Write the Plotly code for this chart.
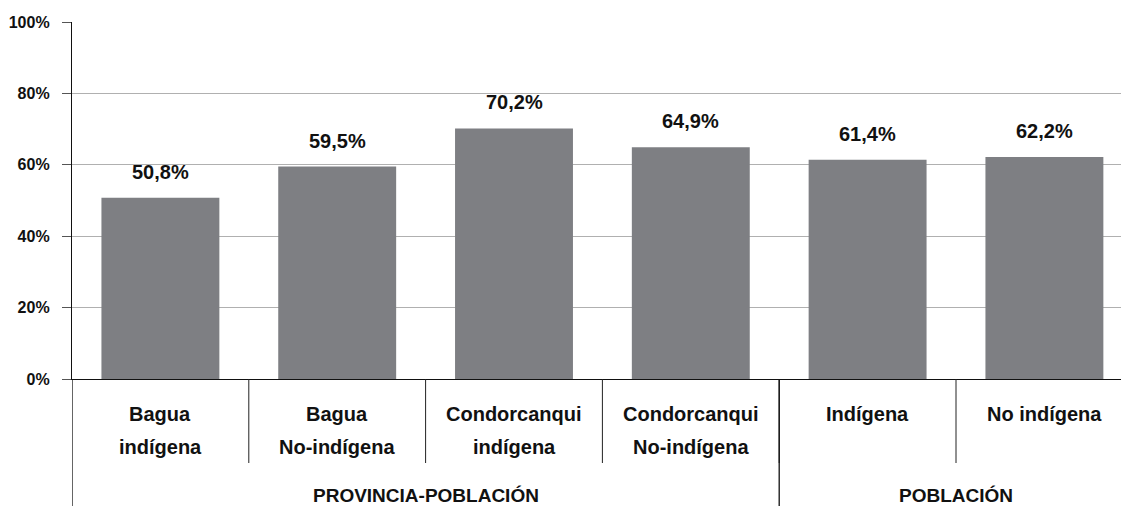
import plotly.graph_objects as go

# Data
categories = ["Bagua<br>indígena", "Bagua<br>No-indígena", "Condorcanqui<br>indígena",
              "Condorcanqui<br>No-indígena", "Indígena", "No indígena"]
values = [50.8, 59.5, 70.2, 64.9, 61.4, 62.2]
value_labels = ["50,8%", "59,5%", "70,2%", "64,9%", "61,4%", "62,2%"]
groups = ["PROVINCIA-POBLACIÓN", "POBLACIÓN"]
group_sizes = [4, 2]
y_ticks = [0, 20, 40, 60, 80, 100]
y_ticklabels = ["0%", "20%", "40%", "60%", "80%", "100%"]

_BAR = "#7e7f83"
_GRID = "#b0b0b0"
_TXT = "#111111"
_FONT = "Liberation Sans, Arial, sans-serif"

W, H = 1121, 506
M_L, M_T, M_B = 72, 22, 127
plot_h = H - M_T - M_B
cat_w = 176.8  # pixels per category; last one runs past the right edge
x_end = -0.5 + (W - M_L) / cat_w


def py(pixel_y):
    """Page pixel y -> paper coordinate (below the plot area is negative)."""
    return (H - M_B - pixel_y) / plot_h


xs = list(range(len(categories)))

fig = go.Figure()
fig.add_trace(go.Bar(
    x=xs,
    y=values,
    width=0.667,
    marker=dict(color=_BAR, line=dict(width=0)),
    hoverinfo="skip",
))

# value labels above bars
for x, v, lab in zip(xs, values, value_labels):
    fig.add_annotation(x=x, y=v, text=f"<b>{lab}</b>", showarrow=False,
                       yanchor="bottom", yshift=13,
                       font=dict(family=_FONT, size=20, color=_TXT))

# category labels, one annotation per line for the wide line spacing
for x, cat in zip(xs, categories):
    for k, line in enumerate(cat.split("<br>")):
        fig.add_annotation(x=x, xref="x", y=py(414 + 33 * k), yref="paper",
                           text=f"<b>{line}</b>", showarrow=False, yanchor="middle",
                           font=dict(family=_FONT, size=20, color=_TXT))

# inner separators between categories
for i in range(len(categories) - 1):
    fig.add_shape(type="line", xref="x", yref="paper", x0=i + 0.5, x1=i + 0.5,
                  y0=0, y1=py(463),
                  line=dict(color="#222222", width=1))

# group separators and group labels
start = -0.5
for g, n in zip(groups, group_sizes):
    fig.add_shape(type="line", xref="x", yref="paper", x0=start, x1=start,
                  y0=0, y1=py(H),
                  line=dict(color=_TXT, width=1.3))
    fig.add_annotation(x=start + n / 2, xref="x", y=py(495), yref="paper",
                       text=f"<b>{g}</b>", showarrow=False, yanchor="middle",
                       font=dict(family=_FONT, size=19, color=_TXT))
    start += n

fig.update_layout(
    width=W, height=H,
    margin=dict(l=M_L, r=0, t=M_T, b=M_B, pad=0),
    paper_bgcolor="white",
    plot_bgcolor="white",
    showlegend=False,
    xaxis=dict(range=[-0.5, x_end], showticklabels=False, showgrid=False,
               zeroline=False, showline=True, linecolor=_TXT, linewidth=1.3,
               ticks="", fixedrange=True),
    yaxis=dict(range=[0, 100], tickvals=y_ticks, ticktext=[f"<b>{t}</b>" for t in y_ticklabels],
               showgrid=True, gridcolor=_GRID, gridwidth=1, zeroline=False,
               showline=True, linecolor=_TXT, linewidth=1.3,
               ticks="outside", ticklen=9, tickcolor="#555555", tickwidth=1,
               ticklabelstandoff=9,
               tickfont=dict(family=_FONT, size=16, color=_TXT), fixedrange=True),
)

fig.write_html("out.html", config={"displayModeBar": False},
               post_script="document.body.style.margin='0';")
